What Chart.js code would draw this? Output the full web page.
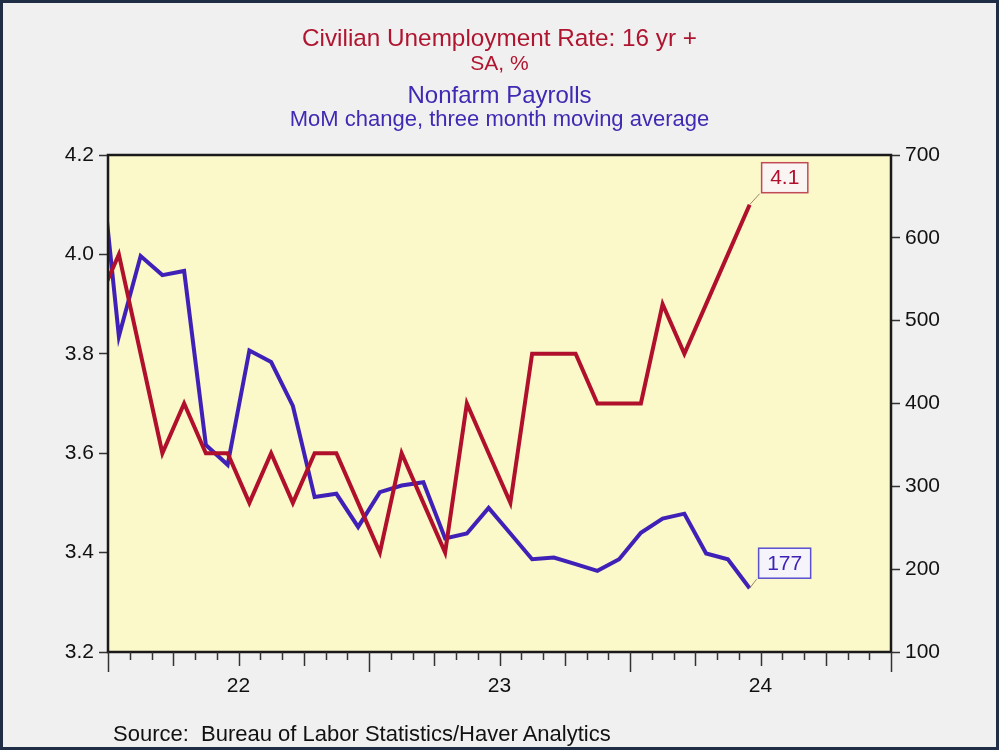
<!DOCTYPE html>
<html>
<head>
<meta charset="utf-8">
<script src="https://cdn.jsdelivr.net/npm/chart.js@4.4.1/dist/chart.umd.min.js"></script>
<style>
  html, body { margin: 0; padding: 0; background: #f0f0f0; }
  #wrap { position: relative; width: 999px; height: 750px; overflow: hidden; background: #f0f0f0; }
  #chart { position: absolute; left: 0; top: 0; }
  .t { position: absolute; left: 0; width: 999px; text-align: center; line-height: 1; white-space: nowrap;
       font-family: "Liberation Sans", Arial, sans-serif; }
  #frame { position: absolute; left: 0; top: 0; width: 999px; height: 750px; box-sizing: border-box;
           border: 3px solid #1f2d45; pointer-events: none; }
</style>
</head>
<body>
<div id="wrap">
  <canvas id="chart" width="999" height="750"></canvas>
  <div class="t" style="top:26px;font-size:24.3px;color:#b01530;">Civilian Unemployment Rate: 16 yr +</div>
  <div class="t" style="top:52px;font-size:21px;color:#b01530;">SA, %</div>
  <div class="t" style="top:83px;font-size:24px;color:#4029b3;">Nonfarm Payrolls</div>
  <div class="t" style="top:108px;font-size:22px;color:#4029b3;">MoM change, three month moving average</div>
  <div class="t" style="top:723px;left:113px;width:auto;text-align:left;font-size:22px;color:#111;">Source:&nbsp; Bureau of Labor Statistics/Haver Analytics</div>
  <div id="frame"></div>
</div>
<script>
// monthly observations, Dec 2021 .. Jun 2024
const months = ['2021-12',
  '2022-01','2022-02','2022-03','2022-04','2022-05','2022-06','2022-07','2022-08','2022-09','2022-10','2022-11','2022-12',
  '2023-01','2023-02','2023-03','2023-04','2023-05','2023-06','2023-07','2023-08','2023-09','2023-10','2023-11','2023-12',
  '2024-01','2024-02','2024-03','2024-04','2024-05','2024-06'];

// civilian unemployment rate, %
const unemployment = [3.9,
  4.0, 3.8, 3.6, 3.7, 3.6, 3.6, 3.5, 3.6, 3.5, 3.6, 3.6, 3.5,
  3.4, 3.6, 3.5, 3.4, 3.7, 3.6, 3.5, 3.8, 3.8, 3.8, 3.7, 3.7,
  3.7, 3.9, 3.8, 3.9, 4.0, 4.1];

// nonfarm payrolls, MoM change, 3-month moving average (thousands)
const payrolls = [735,
  481, 578, 555, 560, 350, 326, 464, 450, 397, 287, 291, 251,
  293, 301, 305, 237, 243, 274, 243, 212, 214, 206, 198, 212,
  244, 261, 267, 219, 212, 177];

// year labels and the axis month they sit under
const yearLabels = ['22', '23', '24'];
const yearLabelMonths = [6, 18, 30];

const RED = '#b0102c';
const BLUE = '#4021b8';
const FONT = '"Liberation Sans", Arial, sans-serif';

// axis runs in months; each observation sits mid-month, first one just off the left edge
const xOf = i => i - 0.5;

const framePlugin = {
  id: 'frame',
  beforeDatasetsDraw(chart) {
    const { ctx, chartArea: a } = chart;
    ctx.save();
    ctx.fillStyle = '#fbf8c9';
    ctx.fillRect(a.left, a.top, a.right - a.left, a.bottom - a.top);
    ctx.restore();
  },
  afterDatasetsDraw(chart) {
    const { ctx, chartArea: a } = chart;
    const xs = chart.scales.x;
    ctx.save();
    // plot frame
    ctx.strokeStyle = '#1a1a1a';
    ctx.lineWidth = 2.5;
    ctx.strokeRect(a.left, a.top, a.right - a.left, a.bottom - a.top);
    // month ticks under the axis
    ctx.strokeStyle = '#333';
    ctx.lineWidth = 1.5;
    for (let k = xs.min; k <= xs.max; k++) {
      const len = k % 12 === 0 ? 20 : (k % 3 === 0 ? 14 : 8);
      const px = Math.round(xs.getPixelForValue(k)) + 0.5;
      ctx.beginPath();
      ctx.moveTo(px, a.bottom);
      ctx.lineTo(px, a.bottom + len);
      ctx.stroke();
    }
    // end-of-line callouts
    const callout = (dsIndex, text, col, border, bg, dx, dy) => {
      const meta = chart.getDatasetMeta(dsIndex);
      const pt = meta.data[meta.data.length - 1];
      ctx.font = '21px ' + FONT;
      const w = ctx.measureText(text).width + 17;
      const h = 30;
      const bx = pt.x + dx, by = pt.y + dy - h;
      ctx.strokeStyle = '#a08468';
      ctx.lineWidth = 1;
      ctx.beginPath();
      ctx.moveTo(pt.x, pt.y);
      ctx.lineTo(bx - 2, by + h + 1);
      ctx.stroke();
      ctx.fillStyle = bg;
      ctx.fillRect(bx, by, w, h);
      ctx.strokeStyle = border;
      ctx.lineWidth = 1.5;
      ctx.strokeRect(bx, by, w, h);
      ctx.fillStyle = col;
      ctx.textAlign = 'center';
      ctx.textBaseline = 'middle';
      ctx.fillText(text, bx + w / 2, by + h / 2 + 1);
    };
    callout(0, unemployment[unemployment.length - 1].toFixed(1), RED, '#c04a58', '#faf4f2', 12, -12);
    callout(1, String(payrolls[payrolls.length - 1]), BLUE, '#5a50d0', '#f5f4fb', 9, -10);
    ctx.restore();
  }
};

const ctx = document.getElementById('chart');

const chart = new Chart(ctx, {
  type: 'line',
  data: {
    datasets: [{
      label: 'Civilian Unemployment Rate: 16 yr +',
      data: unemployment.map((v, i) => ({ x: xOf(i), y: v })),
      yAxisID: 'y',
      borderColor: RED,
      borderWidth: 4,
      pointRadius: 0,
      tension: 0,
      clip: 0
    }, {
      label: 'Nonfarm Payrolls',
      data: payrolls.map((v, i) => ({ x: xOf(i), y: v })),
      yAxisID: 'y2',
      borderColor: BLUE,
      borderWidth: 4,
      pointRadius: 0,
      tension: 0,
      clip: 0
    }]
  },
  options: {
    responsive: false,
    maintainAspectRatio: false,
    animation: false,
    layout: { padding: { top: 155, left: 0, right: 0, bottom: 0 } },
    plugins: { legend: { display: false }, tooltip: { enabled: false }, title: { display: false } },
    scales: {
      x: {
        type: 'linear',
        min: 0,
        max: 36,
        afterBuildTicks: s => { s.ticks = yearLabelMonths.map(v => ({ value: v })); },
        ticks: {
          autoSkip: false,
          maxRotation: 0,
          padding: 22,
          color: '#111',
          font: { family: FONT, size: 21 },
          callback: v => yearLabels[yearLabelMonths.indexOf(v)]
        },
        grid: { display: false, drawTicks: false },
        border: { display: false },
        afterFit: s => { s.height = 98; }
      },
      y: {
        position: 'left',
        min: 3.2,
        max: 4.2,
        ticks: {
          stepSize: 0.2,
          padding: 5,
          color: '#111',
          font: { family: FONT, size: 21 },
          callback: v => v.toFixed(1)
        },
        grid: { drawOnChartArea: false, tickLength: 9, color: '#333', tickWidth: 1.5 },
        border: { display: false },
        afterFit: s => { s.width = 108; }
      },
      y2: {
        position: 'right',
        min: 100,
        max: 700,
        ticks: {
          stepSize: 100,
          padding: 5,
          color: '#111',
          font: { family: FONT, size: 21 }
        },
        grid: { drawOnChartArea: false, tickLength: 9, color: '#333', tickWidth: 1.5 },
        border: { display: false },
        afterFit: s => { s.width = 108; }
      }
    }
  },
  plugins: [framePlugin]
});
</script>
</body>
</html>
